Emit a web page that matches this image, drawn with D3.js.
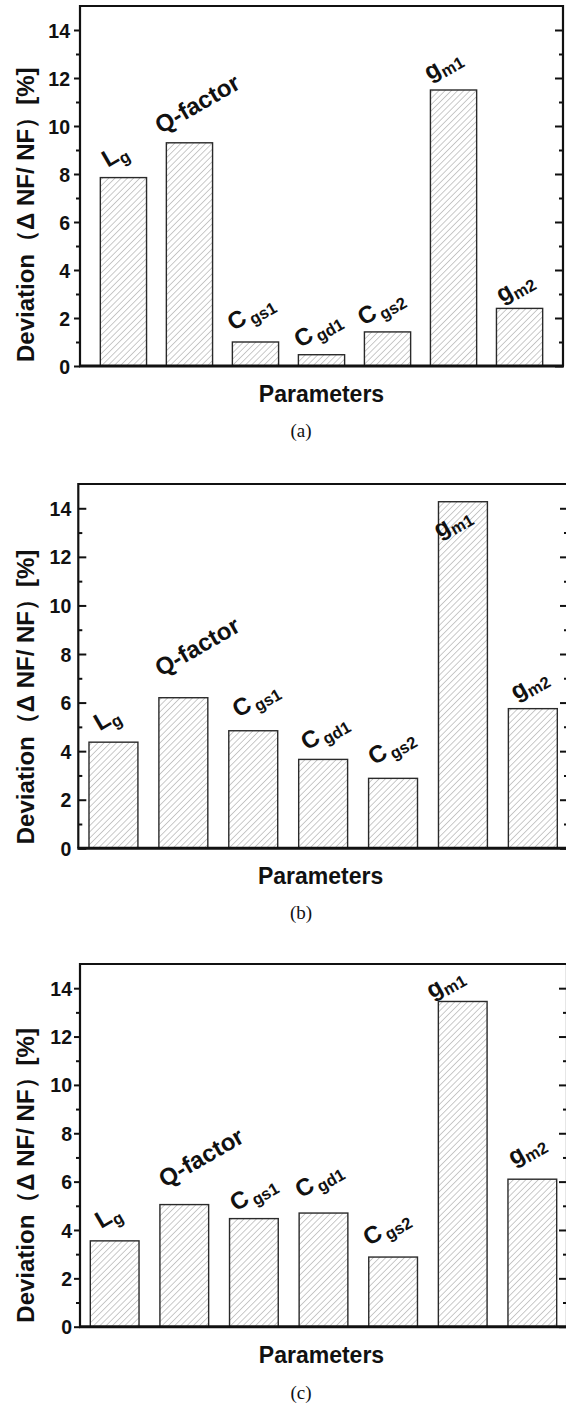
<!DOCTYPE html>
<html>
<head>
<meta charset="utf-8">
<script src="https://cdn.jsdelivr.net/npm/d3@7"></script>
<style>
  body { margin: 0; background: #fff; }
  svg { display: block; }
  text { font-family: "Liberation Sans", Arial, Helvetica, sans-serif; font-weight: bold; fill: #111; }
</style>
</head>
<body>
<svg id="fig" width="566" height="1408"></svg>
<script>
// Circuit parameters varied in the sensitivity study
const parameters = ["Lg", "Q-factor", "Cgs1", "Cgd1", "Cgs2", "gm1", "gm2"];
const labelMain  = ["L", "Q-factor", "C", "C", "C", "g", "g"];
const labelSub   = ["g", "", "gs1", "gd1", "gs2", "m1", "m2"];

// Noise-figure deviation (%) for each parameter, three cases
const deviationA = [7.85, 9.3, 1.0, 0.47, 1.42, 11.5, 2.4];
const deviationB = [4.37, 6.2, 4.84, 3.66, 2.88, 14.27, 5.75];
const deviationC = [3.55, 5.05, 4.47, 4.7, 2.88, 13.45, 6.1];

const yDomain = [0, 15];
const yTicks = [0, 2, 4, 6, 8, 10, 12, 14];
const yMinorTicks = [1, 3, 5, 7, 9, 11, 13];
const panelTags = ["(a)", "(b)", "(c)"];
const yTitle = "Deviation（Δ NF/ NF）[%]";
const xTitle = "Parameters";

// Frame geometry and label placement for each panel
const layouts = [
  { left: 80, right: 563, top: 6, bottom: 366, padOuter: 0.308, tickIn: false, tickGap: 10,
    tagY: 437,
    nudge: [[-5,-16],[12,-32],[-1,-23],[0,-19],[-3,-18],[-7,-19],[-1,-15]] },
  { left: 78.3, right: 568, top: 484, bottom: 848.3, padOuter: 0.153, tickIn: true, tickGap: 7,
    tagY: 919,
    nudge: [[-3,-17],[18,-44],[6,-25],[5,-21],[2,-25],[-7,27],[0,-18]] },
  { left: 80, right: 567, top: 964, bottom: 1326.7, padOuter: 0.148, tickIn: false, tickGap: 8,
    tagY: 1399,
    nudge: [[-3,-18],[21,-40],[3,-19],[-1,-27],[-3,-23],[-14,-12],[-2,-23]] }
];
const series = [deviationA, deviationB, deviationC];

const svg = d3.select("#fig");

// Diagonal hatch fill for the bars
svg.append("defs").append("pattern")
  .attr("id", "hatch")
  .attr("patternUnits", "userSpaceOnUse")
  .attr("width", 4.4).attr("height", 4.4)
  .attr("patternTransform", "rotate(45)")
  .call(p => {
    p.append("rect").attr("width", 4.4).attr("height", 4.4).attr("fill", "#fff");
    p.append("line").attr("x1", 0).attr("y1", 0).attr("x2", 0).attr("y2", 4.4)
      .attr("stroke", "#666").attr("stroke-width", 0.7);
  });

series.forEach((values, pi) => {
  const L = layouts[pi];
  const g = svg.append("g");

  const x = d3.scaleBand().domain(parameters)
    .range([L.left, L.right]).paddingInner(0.3).paddingOuter(L.padOuter);
  const y = d3.scaleLinear().domain(yDomain).range([L.bottom, L.top]);

  // bars
  g.selectAll("rect.bar").data(parameters).join("rect")
    .attr("class", "bar")
    .attr("x", d => x(d))
    .attr("width", x.bandwidth())
    .attr("y", (d, i) => y(values[i]))
    .attr("height", (d, i) => y(0) - y(values[i]))
    .attr("fill", "url(#hatch)")
    .attr("stroke", "#2a2a2a").attr("stroke-width", 1.4);

  // left axis: major + minor ticks
  const dir = L.tickIn ? -1 : 1;
  const leftMajor = g.append("g").attr("transform", `translate(${L.left},0)`)
    .call(d3.axisLeft(y).tickValues(yTicks).tickSize(dir * (L.tickIn ? 8 : 6)).tickPadding(0));
  leftMajor.select(".domain").remove();
  leftMajor.selectAll("line").attr("stroke", "#111").attr("stroke-width", 2);
  leftMajor.selectAll("text").attr("x", -L.tickGap).attr("font-size", 19.5).attr("dy", "0.36em");

  const leftMinor = g.append("g").attr("transform", `translate(${L.left},0)`)
    .call(d3.axisLeft(y).tickValues(yMinorTicks).tickSize(dir * 4).tickFormat(""));
  leftMinor.select(".domain").remove();
  leftMinor.selectAll("line").attr("stroke", "#111").attr("stroke-width", 2);

  // right axis: inward ticks
  const rightMajor = g.append("g").attr("transform", `translate(${L.right},0)`)
    .call(d3.axisRight(y).tickValues(yTicks).tickSize(-8).tickFormat(""));
  rightMajor.select(".domain").remove();
  rightMajor.selectAll("line").attr("stroke", "#111").attr("stroke-width", 2);
  const rightMinor = g.append("g").attr("transform", `translate(${L.right},0)`)
    .call(d3.axisRight(y).tickValues(yMinorTicks).tickSize(-4).tickFormat(""));
  rightMinor.select(".domain").remove();
  rightMinor.selectAll("line").attr("stroke", "#111").attr("stroke-width", 2);

  // frame
  g.append("line").attr("x1", L.left).attr("x2", L.right).attr("y1", L.top).attr("y2", L.top)
    .attr("stroke", "#111").attr("stroke-width", 2.2);
  g.append("line").attr("x1", L.left).attr("x2", L.left).attr("y1", L.top - 1).attr("y2", L.bottom)
    .attr("stroke", "#111").attr("stroke-width", 2.2);
  g.append("line").attr("x1", L.right).attr("x2", L.right).attr("y1", L.top - 1).attr("y2", L.bottom)
    .attr("stroke", "#111").attr("stroke-width", 2.2);
  g.append("line").attr("x1", L.left - 1).attr("x2", L.right + 1).attr("y1", L.bottom).attr("y2", L.bottom)
    .attr("stroke", "#111").attr("stroke-width", 3);

  // rotated parameter labels with subscripts
  parameters.forEach((p, i) => {
    const cx = x(p) + x.bandwidth() / 2 + L.nudge[i][0];
    const cy = y(values[i]) + L.nudge[i][1];
    const t = g.append("text")
      .attr("transform", `translate(${cx},${cy}) rotate(-30)`)
      .attr("text-anchor", "middle");
    t.append("tspan").attr("font-size", 24).text(labelMain[i]);
    if (labelSub[i]) {
      t.append("tspan").attr("font-size", 16.5).attr("dy", 5)
        .attr("dx", labelMain[i] === "C" ? 3 : 0).text(labelSub[i]);
    }
  });

  // axis titles
  g.append("text")
    .attr("transform", `translate(34,${L.bottom - 4}) rotate(-90)`)
    .attr("text-anchor", "start")
    .attr("font-size", 24)
    .text(yTitle);
  g.append("text")
    .attr("x", (L.left + Math.min(L.right, 563)) / 2).attr("y", L.bottom + 36)
    .attr("text-anchor", "middle").attr("font-size", 23)
    .text(xTitle);

  // panel tag
  g.append("text")
    .attr("x", 301).attr("y", L.tagY)
    .attr("text-anchor", "middle")
    .style("font-family", "'Liberation Serif', 'Times New Roman', serif")
    .style("font-weight", "normal")
    .attr("font-size", 19)
    .text(panelTags[pi]);
});
</script>
</body>
</html>
